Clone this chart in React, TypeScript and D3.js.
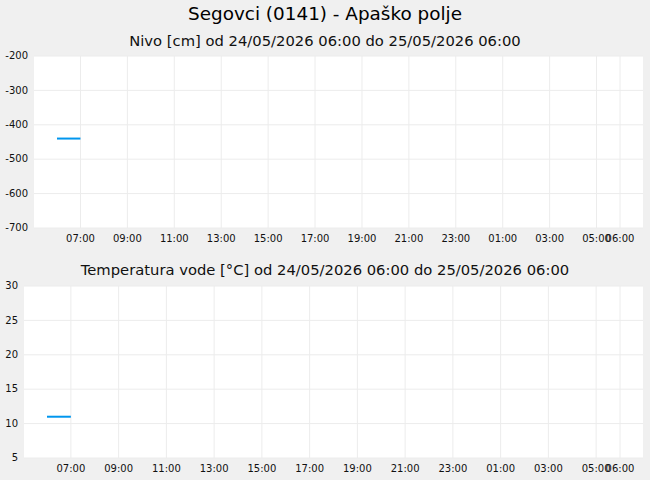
import React, { useEffect, useRef } from 'react';
import * as d3 from 'd3';

const chartTitle = 'Segovci (0141) - Apaško polje';
const rangeStart = '24/05/2026 06:00';
const rangeEnd = '25/05/2026 06:00';

const sampleTimes = ['2026-05-24 06:00', '2026-05-24 07:00'];
const levelValues = [-440, -440];
const tempValues = [11, 11];

const levelTicks = [-200, -300, -400, -500, -600, -700];
const tempTicks = [30, 25, 20, 15, 10, 5];
const hourTicks = [
  '2026-05-24 07:00', '2026-05-24 09:00', '2026-05-24 11:00', '2026-05-24 13:00',
  '2026-05-24 15:00', '2026-05-24 17:00', '2026-05-24 19:00', '2026-05-24 21:00',
  '2026-05-24 23:00', '2026-05-25 01:00', '2026-05-25 03:00', '2026-05-25 05:00',
  '2026-05-25 06:00',
];

const W = 650;
const H = 480;
const FONT = '"DejaVu Sans", sans-serif';
const parse = d3.timeParse('%Y-%m-%d %H:%M');

interface PanelSpec {
  title: string;
  left: number;
  top: number;
  bottom: number;
  titleY: number;
  ticks: number[];
  values: number[];
}

const panels: PanelSpec[] = [
  {
    title: `Nivo [cm] od ${rangeStart} do ${rangeEnd}`,
    left: 34, top: 56, bottom: 228, titleY: 46,
    ticks: levelTicks, values: levelValues,
  },
  {
    title: `Temperatura vode [°C] od ${rangeStart} do ${rangeEnd}`,
    left: 24, top: 286, bottom: 458, titleY: 275,
    ticks: tempTicks, values: tempValues,
  },
];

export default function App() {
  const svgRef = useRef<SVGSVGElement | null>(null);

  useEffect(() => {
    if (!svgRef.current) return;
    const svg = d3.select(svgRef.current);
    svg.selectAll('*').remove();

    svg.append('rect').attr('width', W).attr('height', H).attr('fill', '#f0f0f0');

    svg.append('text')
      .attr('x', W / 2).attr('y', 20)
      .attr('text-anchor', 'middle')
      .attr('font-family', FONT).attr('font-size', '18.4px').attr('fill', '#000')
      .text(chartTitle);

    const right = 643;
    const pad = 23;
    const t0 = parse('2026-05-24 06:00')!;
    const t1 = parse('2026-05-25 06:00')!;
    const tickDates = hourTicks.map((d) => parse(d)!);
    const points = sampleTimes.map((t) => ({ t: parse(t)! }));

    panels.forEach((p) => {
      const x = d3.scaleTime().domain([t0, t1]).range([p.left + pad, right - pad]);
      const y = d3.scaleLinear()
        .domain([d3.min(p.ticks)!, d3.max(p.ticks)!])
        .range([p.bottom, p.top]);

      svg.append('text')
        .attr('x', W / 2).attr('y', p.titleY)
        .attr('text-anchor', 'middle')
        .attr('font-family', FONT).attr('font-size', '14.75px').attr('fill', '#111')
        .text(p.title);

      svg.append('rect')
        .attr('x', p.left).attr('y', p.top)
        .attr('width', right - p.left).attr('height', p.bottom - p.top)
        .attr('fill', '#ffffff');

      const g = svg.append('g');

      // grid
      g.selectAll('.hgrid').data(p.ticks).enter().append('line')
        .attr('x1', p.left).attr('x2', right)
        .attr('y1', (d) => y(d)).attr('y2', (d) => y(d))
        .attr('stroke', '#ececec').attr('stroke-width', 1);
      g.selectAll('.vgrid').data(tickDates).enter().append('line')
        .attr('x1', (d) => x(d)).attr('x2', (d) => x(d))
        .attr('y1', p.top).attr('y2', p.bottom)
        .attr('stroke', '#ececec').attr('stroke-width', 1);

      // y labels
      g.selectAll('.ylab').data(p.ticks).enter().append('text')
        .attr('x', p.left - 6).attr('y', (d) => y(d))
        .attr('dy', '0.32em')
        .attr('text-anchor', 'end')
        .attr('font-family', FONT).attr('font-size', '10px').attr('fill', '#111')
        .text((d) => String(d));

      // x labels
      const fmt = d3.timeFormat('%H:%M');
      g.selectAll('.xlab').data(tickDates).enter().append('text')
        .attr('x', (d) => x(d)).attr('y', p.bottom + 14)
        .attr('text-anchor', 'middle')
        .attr('font-family', FONT).attr('font-size', '10px').attr('fill', '#111')
        .text((d) => fmt(d));

      const line = d3.line<{ t: Date }>()
        .x((d) => x(d.t))
        .y((d, i) => y(p.values[i]));
      g.append('path')
        .datum(points)
        .attr('d', line)
        .attr('fill', 'none')
        .attr('stroke', '#0096ee')
        .attr('stroke-width', 2);
    });
  }, []);

  return (
    <div style={{ position: 'absolute', left: 0, top: 0 }}>
      <svg ref={svgRef} width={W} height={H} style={{ display: 'block' }} />
    </div>
  );
}
